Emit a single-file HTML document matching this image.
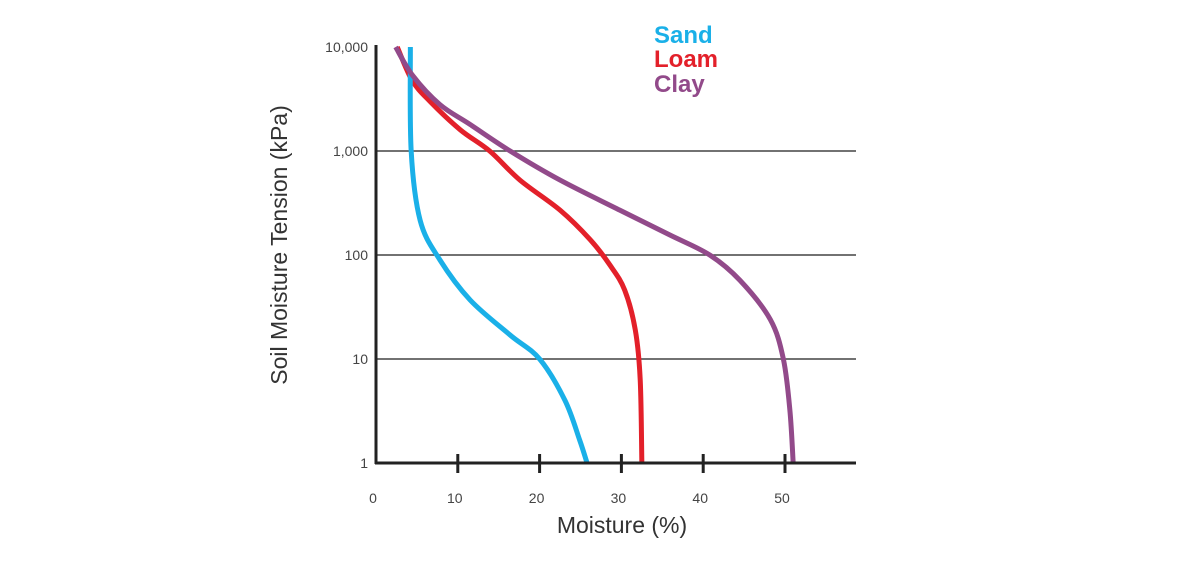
<!DOCTYPE html>
<html><head><meta charset="utf-8"><style>
body{margin:0;background:#fff;width:1200px;height:557px;overflow:hidden}
svg{font-family:"Liberation Sans",sans-serif}
</style></head><body>
<svg width="1200" height="557">
<g id="grid"></g><g id="series"></g><g id="axes"></g>
<text transform="translate(287,245) rotate(-90)" text-anchor="middle" font-size="23" fill="#333">Soil Moisture Tension (kPa)</text>
<text x="622" y="533" text-anchor="middle" font-size="23" fill="#333">Moisture (%)</text>
<g font-weight="bold" font-size="24">
<text x="654" y="43" fill="#1ab0e8">Sand</text>
<text x="654" y="67" fill="#e3202a">Loam</text>
<text x="654" y="92" fill="#924a8a">Clay</text>
</g>
</svg>
<script>
const yTicks=[1,10,100,1000,10000];
const yTickLabels=["1","10","100","1,000","10,000"];
const xTicks=[0,10,20,30,40,50];
const sandM=[4.2,4.3,5.4,7.8,11.5,16.4,20,23.1,24.9,25.8];
const sandK=[10000,1000,215,90,37,17,10,4,1.66,1];
const loamM=[2.6,4.4,6.6,10.3,13.9,17.6,22.5,26.2,28.6,30.4,31.7,32.3,32.5];
const loamK=[10000,4800,3000,1600,1000,525,270,140,80,46,19,6.3,1];
const clayM=[2.4,4.5,7.8,11.5,16.4,22.5,29.8,35.9,40.8,44.5,48.2,49.8,50.6,51];
const clayK=[10000,5300,2800,1800,1000,525,270,156,100,57,24,10,3.2,1];
const X=m=>376+m*8.18, Y=k=>463-Math.log10(k)*104;
const NS="http://www.w3.org/2000/svg";
function mk(t,a,p){const e=document.createElementNS(NS,t);for(const k in a)e.setAttribute(k,a[k]);p.appendChild(e);return e;}
const grid=document.getElementById('grid'),axes=document.getElementById('axes'),ser=document.getElementById('series');
yTicks.forEach((v,i)=>{
 if(i>0&&i<4){const l=mk('line',{x1:376,x2:856,y1:Y(v),y2:Y(v),stroke:'#444','stroke-width':1.5},grid);
 
 }
 const t=mk('text',{x:368,y:Y(v)+5,'text-anchor':'end','font-size':14,fill:'#444'},axes);t.textContent=yTickLabels[i];
 
 
});
xTicks.forEach(v=>{
 if(v>0){const l=mk('line',{x1:X(v),x2:X(v),y1:454,y2:473,stroke:'#222','stroke-width':3},axes);
 
 }
 const t=mk('text',{x:X(v)-3,y:503,'text-anchor':'middle','font-size':14,fill:'#444'},axes);t.textContent=v;
 
 
});
const ya=mk('line',{x1:376,x2:376,y1:45,y2:464,stroke:'#222','stroke-width':3},axes);


const xa=mk('line',{x1:375,x2:856,y1:463,y2:463,stroke:'#222','stroke-width':3},axes);


function path(M,K){const p=M.map((m,i)=>[X(m),Y(K[i])]);let d=`M${p[0][0]},${p[0][1]}`;
 for(let i=0;i<p.length-1;i++){const p0=p[i-1]||p[i],p1=p[i],p2=p[i+1],p3=p[i+2]||p2;
 d+=` C${p1[0]+(p2[0]-p0[0])/6},${p1[1]+(p2[1]-p0[1])/6} ${p2[0]-(p3[0]-p1[0])/6},${p2[1]-(p3[1]-p1[1])/6} ${p2[0]},${p2[1]}`;}
 return d;}
const s1=mk('path',{d:path(loamM,loamK),fill:'none',stroke:'#e3202a','stroke-width':5},ser);


const s2=mk('path',{d:path(sandM,sandK),fill:'none',stroke:'#1ab0e8','stroke-width':5},ser);


const s3=mk('path',{d:path(clayM,clayK),fill:'none',stroke:'#924a8a','stroke-width':5},ser);


</script>
</body></html>
